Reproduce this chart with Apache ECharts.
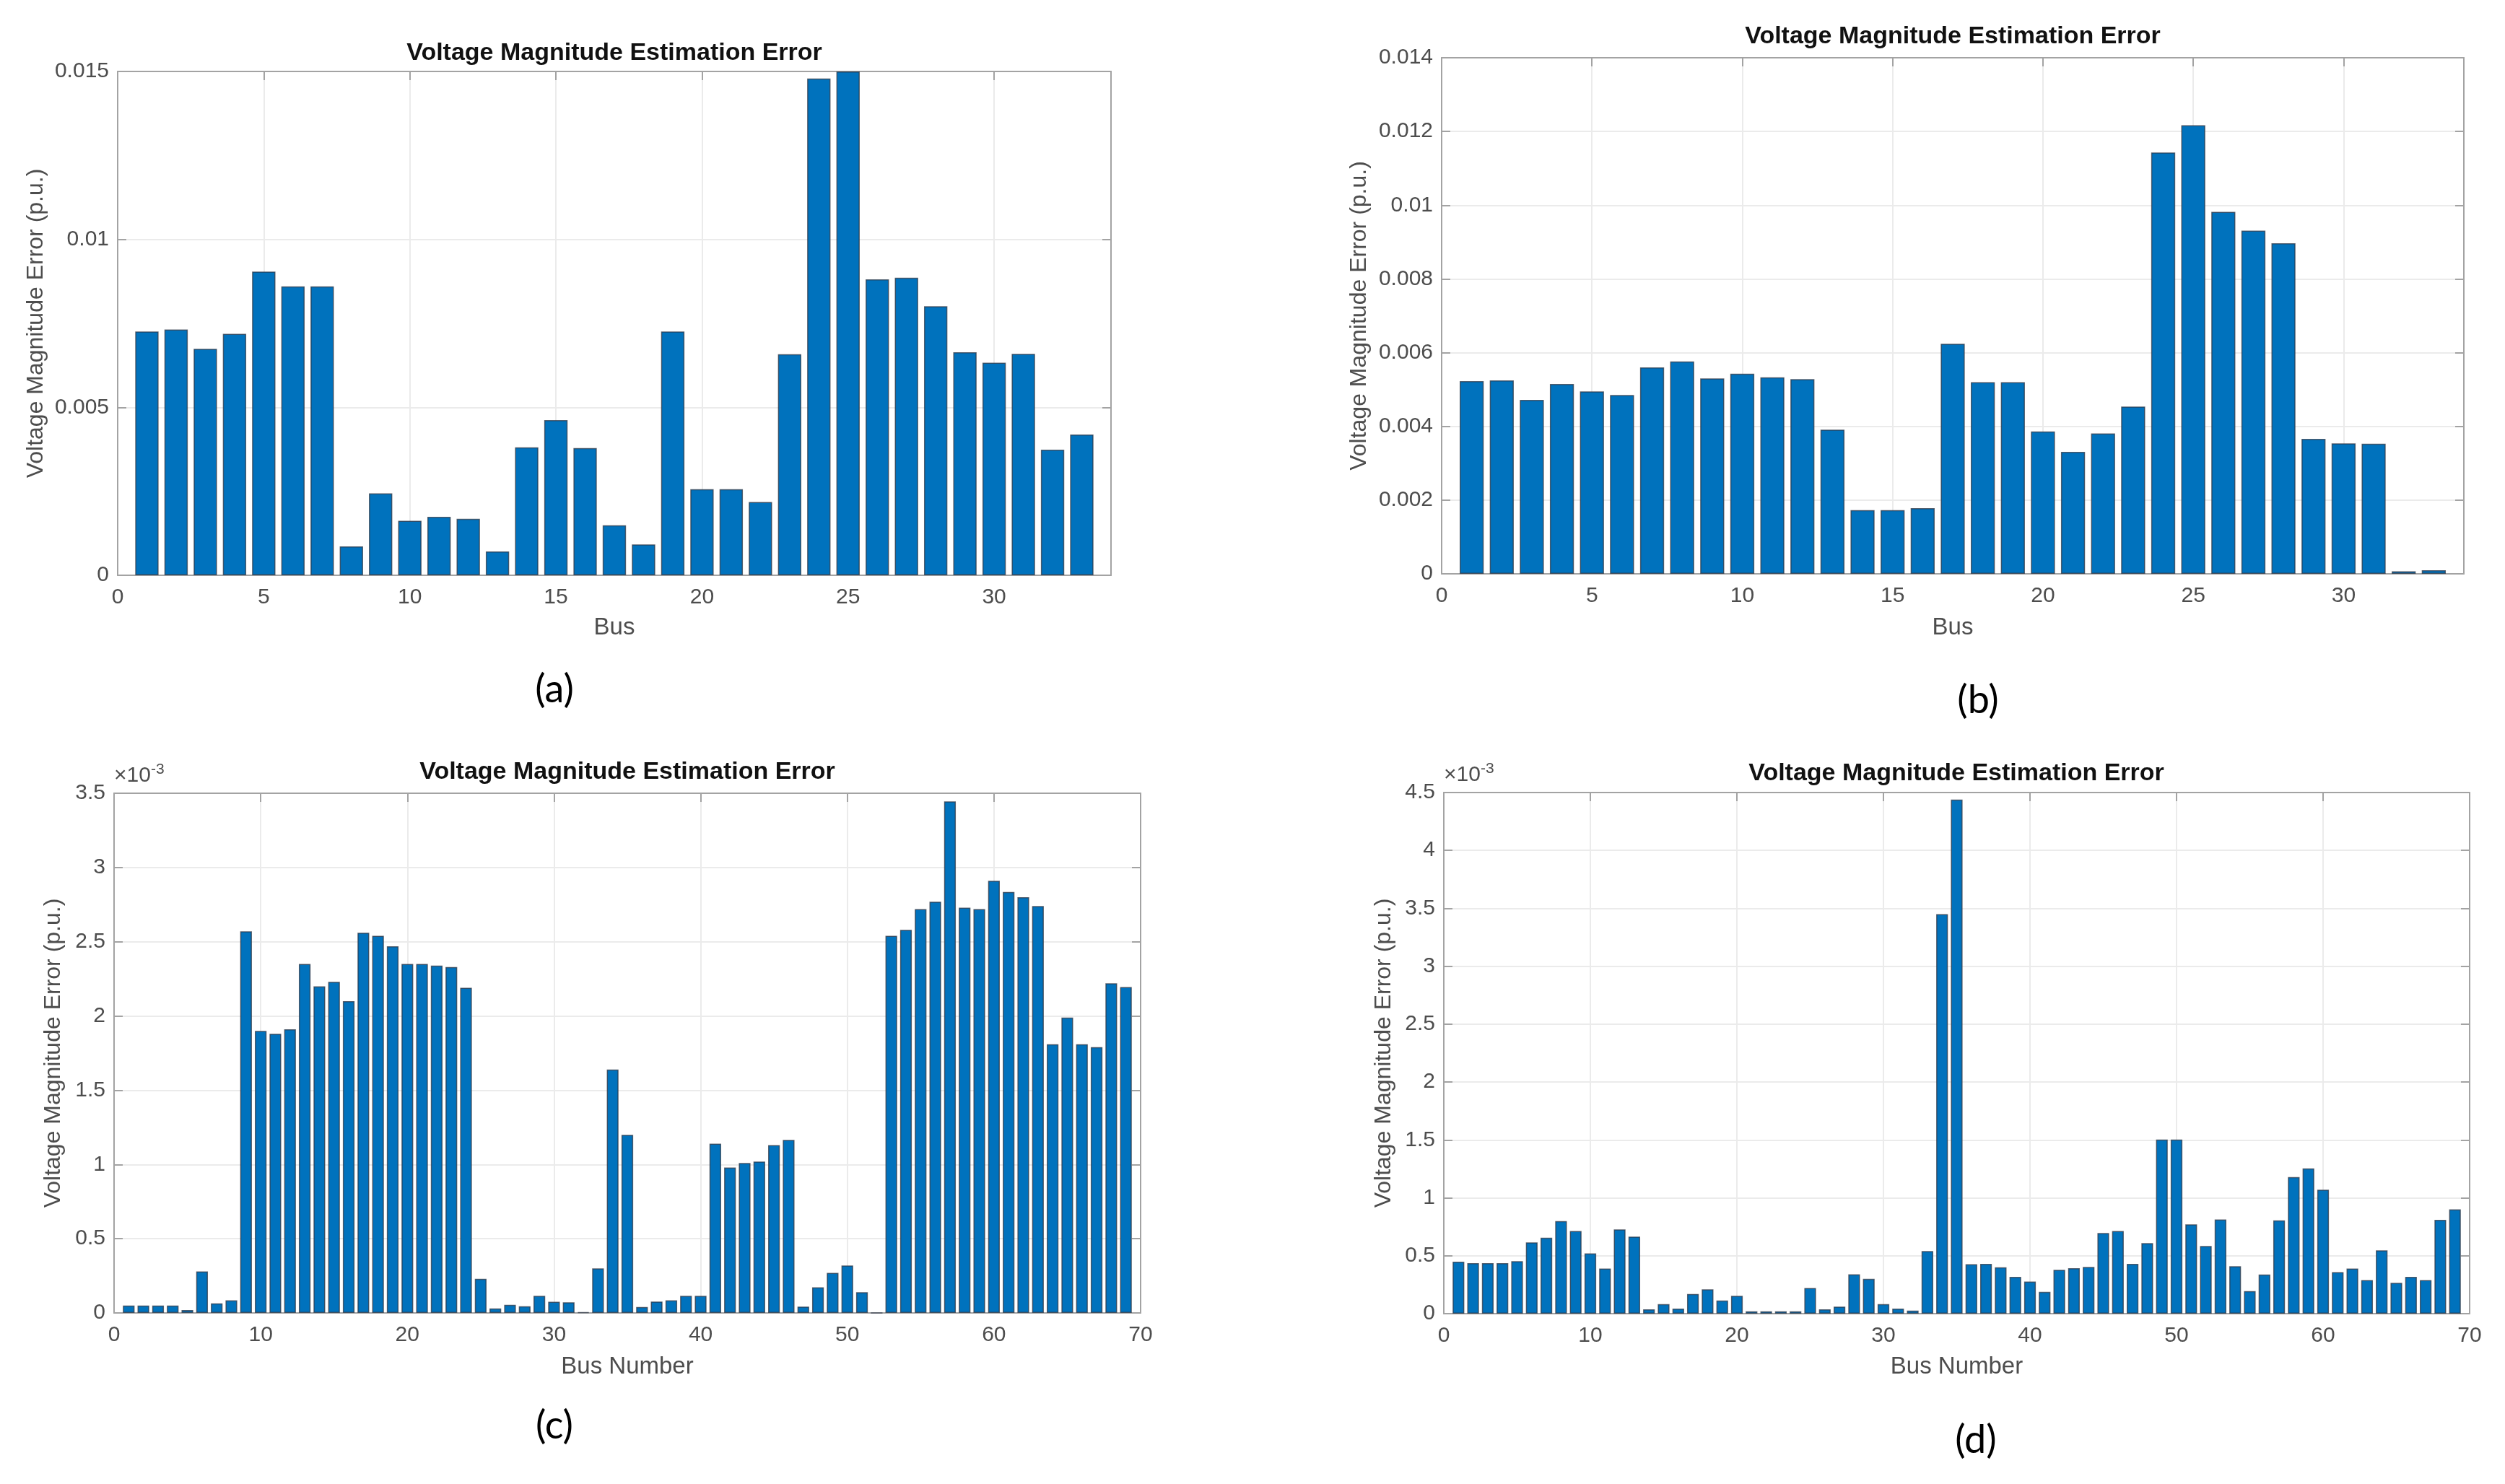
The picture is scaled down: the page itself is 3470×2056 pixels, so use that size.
<!DOCTYPE html>
<html>
<head>
<meta charset="utf-8">
<script src="https://cdn.jsdelivr.net/npm/echarts@6/dist/echarts.min.js"></script>
<style>
html,body{margin:0;padding:0;background:#fff;}
#chart{width:3470px;height:2056px;}
</style>
</head>
<body>
<div id="chart"></div>
<script>
// ---------- data ----------
const busA = [1,2,3,4,5,6,7,8,9,10,11,12,13,14,15,16,17,18,19,20,21,22,23,24,25,26,27,28,29,30,31,32,33];
const busB = busA;
const busC = [1,2,3,4,5,6,7,8,9,10,11,12,13,14,15,16,17,18,19,20,21,22,23,24,25,26,27,28,29,30,
  31,32,33,34,35,36,37,38,39,40,41,42,43,44,45,46,47,48,49,50,51,52,53,54,55,56,57,58,59,60,
  61,62,63,64,65,66,67,68,69];
const busD = busC;

// (a) error in p.u.
const errA = [0.00726,0.00732,0.00674,0.00719,0.00904,0.00860,0.00860,0.00086,0.00244,0.00162,
  0.00174,0.00168,0.00071,0.00381,0.00462,0.00379,0.00149,0.00092,0.00726,0.00256,
  0.00256,0.00218,0.00658,0.01479,0.01500,0.00881,0.00886,0.00801,0.00664,0.00633,
  0.00659,0.00374,0.00419];
// (b) error in p.u.
const errB = [0.00523,0.00525,0.00472,0.00515,0.00495,0.00485,0.00560,0.00576,0.00530,0.00543,
  0.00533,0.00528,0.00391,0.00173,0.00173,0.00178,0.00624,0.00520,0.00520,0.00386,
  0.00331,0.00381,0.00454,0.01143,0.01217,0.00982,0.00931,0.00897,0.00366,0.00354,
  0.00353,0.00007,0.00010];
// (c) error in units of 1e-3 p.u.
const errC = [0.05,0.05,0.05,0.05,0.02,0.28,0.065,0.085,
  2.57,1.90,1.88,1.91,2.35,2.20,2.23,2.10,2.56,2.54,2.47,2.35,2.35,2.34,2.33,2.19,
  0.23,0.03,0.055,0.045,0.115,0.075,0.072,0.005,
  0.30,1.64,1.20,
  0.04,0.077,0.085,0.115,0.115,
  1.14,0.98,1.01,1.02,1.13,1.165,
  0.043,0.173,0.27,0.32,0.14,0,
  2.54,2.58,2.72,2.77,3.445,2.73,2.72,2.91,2.835,2.80,2.74,
  1.81,1.99,1.81,1.79,2.22,2.195];
// (d) error in units of 1e-3 p.u.
const errD = [0.448,0.437,0.437,0.437,0.454,0.615,0.656,0.80,0.714,0.52,
  0.39,0.728,0.666,0.038,0.082,0.044,0.17,0.21,0.113,0.154,
  0.02,0.02,0.02,0.02,0.222,0.038,0.061,0.34,0.30,0.082,
  0.044,0.027,0.54,3.45,4.44,
  0.427,0.43,0.40,0.318,0.277,0.188,0.379,0.393,0.403,0.697,
  0.714,0.43,0.61,1.503,1.503,0.772,0.584,0.813,0.41,0.195,
  0.338,0.806,1.18,1.254,1.07,0.359,0.39,0.29,0.547,0.266,
  0.318,0.29,0.81,0.90];

const titleText = 'Voltage Magnitude Estimation Error';
const yName = 'Voltage Magnitude Error (p.u.)';
const xNames = ['Bus','Bus','Bus Number','Bus Number'];
const panelTags = ['(a)','(b)','(c)','(d)'];
const yTicksA = [0, 0.015, 0.005];
const yTicksB = [0, 0.014, 0.002];
const yTicksC = [0, 3.5, 0.5];
const yTicksD = [0, 4.5, 0.5];
const xTicksAB = [0, 34, 5];
const xTicksCD = [0, 70, 10];

// ---------- layout ----------
const FONT = "'Liberation Sans', Arial, Helvetica, sans-serif";
const panels = [
  {grid:{left:163, top:99, width:1376, height:698}, title:[851,75], tag:[768,956], xGap:56, yGap:97,
   x:busA, y:errA, yt:yTicksA, xt:xTicksAB, hideMax:true},
  {grid:{left:1997, top:80, width:1416, height:715}, title:[2705,52], tag:[2740,971], xGap:58, yGap:98,
   x:busB, y:errB, yt:yTicksB, xt:xTicksAB, hideMax:true},
  {grid:{left:158, top:1099, width:1422, height:720}, title:[869,1071], tag:[768,1976], xGap:58, yGap:68,
   x:busC, y:errC, yt:yTicksC, xt:xTicksCD, hideMax:false, exp:true},
  {grid:{left:2000, top:1098, width:1421, height:722}, title:[2710,1073], tag:[2737,1996], xGap:57, yGap:67,
   x:busD, y:errD, yt:yTicksD, xt:xTicksCD, hideMax:false, exp:true}
];

const AXC = '#a3a3a3';
const LABC = '#4d4d4d';
const option = {
  animation:false,
  backgroundColor:'#fff',
  grid:[], xAxis:[], yAxis:[], series:[], title:[], graphic:[]
};

function fmtNum(v){ return String(+v.toFixed(6)); }

panels.forEach((p, i) => {
  option.grid.push(Object.assign({containLabel:false}, p.grid));
  const base = i*2;
  // bottom x axis
  option.xAxis.push({
    type:'value', gridIndex:i, position:'bottom', min:p.xt[0], max:p.xt[1], interval:p.xt[2],
    name:xNames[i], nameLocation:'middle', nameGap:p.xGap,
    nameTextStyle:{fontFamily:FONT, fontSize:33, color:LABC},
    axisLine:{show:true, onZero:false, lineStyle:{color:AXC, width:2}},
    axisTick:{show:true, inside:true, length:12, lineStyle:{color:AXC, width:2}},
    axisLabel:{fontFamily:FONT, fontSize:30, color:LABC, margin:16, showMaxLabel:!p.hideMax, formatter:fmtNum},
    splitLine:{show:true, lineStyle:{color:'#ebebeb', width:2}}
  });
  // top mirror x axis
  option.xAxis.push({
    type:'value', gridIndex:i, position:'top', min:p.xt[0], max:p.xt[1], interval:p.xt[2],
    axisLine:{show:true, onZero:false, lineStyle:{color:AXC, width:2}},
    axisTick:{show:true, inside:true, length:12, lineStyle:{color:AXC, width:2}},
    axisLabel:{show:false}, splitLine:{show:false}
  });
  // left y axis
  option.yAxis.push({
    type:'value', gridIndex:i, position:'left', min:p.yt[0], max:p.yt[1], interval:p.yt[2],
    name:yName, nameLocation:'middle', nameGap:p.yGap,
    nameTextStyle:{fontFamily:FONT, fontSize:32, color:LABC},
    axisLine:{show:true, onZero:false, lineStyle:{color:AXC, width:2}},
    axisTick:{show:true, inside:true, length:12, lineStyle:{color:AXC, width:2}},
    axisLabel:{fontFamily:FONT, fontSize:30, color:LABC, margin:12, formatter:fmtNum},
    splitLine:{show:true, lineStyle:{color:'#ebebeb', width:2}}
  });
  // right mirror y axis
  option.yAxis.push({
    type:'value', gridIndex:i, position:'right', min:p.yt[0], max:p.yt[1], interval:p.yt[2],
    axisLine:{show:true, onZero:false, lineStyle:{color:AXC, width:2}},
    axisTick:{show:true, inside:true, length:12, lineStyle:{color:AXC, width:2}},
    axisLabel:{show:false}, splitLine:{show:false}
  });
  option.series.push({
    type:'bar', xAxisIndex:base, yAxisIndex:base,
    data:p.x.map((b, k) => [b, p.y[k]]),
    barWidth:'80%',
    itemStyle:{color:'#0072BD', borderColor:'rgba(45,55,70,0.75)', borderWidth:1.5},
    silent:true
  });
  option.title.push({
    text:titleText, left:p.title[0], top:p.title[1]-18, textAlign:'center', padding:0,
    textStyle:{fontFamily:FONT, fontSize:34, fontWeight:'bold', color:'#111'}
  });
  option.graphic.push({
    type:'text', x:p.tag[0], y:p.tag[1],
    style:{text:panelTags[i], font:"54px 'Lato', 'Liberation Sans', sans-serif", fill:'#000',
      textAlign:'center', textVerticalAlign:'middle'}
  });
  if (p.exp) {
    option.graphic.push({
      type:'text', x:p.grid.left, y:p.grid.top - 6,
      style:{text:'×10{s|-3}', fontFamily:FONT, fontSize:30, fill:LABC,
        textAlign:'left', textVerticalAlign:'bottom',
        rich:{s:{fontFamily:FONT, fontSize:21, fill:LABC, padding:[0,0,16,0]}}}
    });
  }
});

const chart = echarts.init(document.getElementById('chart'), null, {renderer:'canvas'});
chart.setOption(option);
</script>
</body>
</html>
